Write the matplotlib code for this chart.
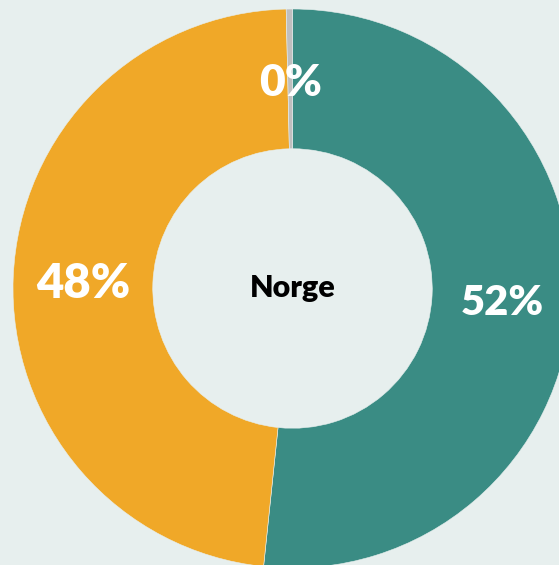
import matplotlib
matplotlib.use("Agg")
import matplotlib.pyplot as plt
import numpy as np

# Andel per kategori (Norge)
labels = ["Teal", "Orange", "Grå"]
values = [51.65, 47.99, 0.36]
pct_labels = ["52%", "48%", "0%"]
colors = ["#3A8C84", "#F0A828", "#BFBFBF"]
label_sizes = [30, 34, 32]
center_text = "Norge"

bg = "#E7EFEE"
plt.rcParams['font.family'] = ['Lato', 'DejaVu Sans']

fig = plt.figure(figsize=(5.59, 5.65), dpi=100, facecolor=bg)
# donut centre at (292.5, 288.5) px, outer radius 279.5 px
ax = fig.add_axes([13 / 559, -3 / 565, 559 / 559, 559 / 565])
ax.set_facecolor(bg)

wedges, _ = ax.pie(values, colors=colors, startangle=90, counterclock=False,
                   radius=1.0, wedgeprops=dict(width=0.5, edgecolor=bg, linewidth=0.4))

# percentage labels in the middle of each ring segment
for w, txt, fs in zip(wedges, pct_labels, label_sizes):
    ang = np.deg2rad((w.theta1 + w.theta2) / 2)
    ax.text(0.75 * np.cos(ang), 0.75 * np.sin(ang) - 0.014, txt, ha='center',
            va='center', color='white', fontsize=fs, fontweight='heavy')

ax.text(0, 0, center_text, ha='center', va='center', fontsize=22,
        fontweight='heavy', color='black')

ax.set_xlim(-1, 1)
ax.set_ylim(-1, 1)
ax.set_aspect('equal')
ax.axis('off')

fig.savefig("out.png", dpi=100, facecolor=bg)
